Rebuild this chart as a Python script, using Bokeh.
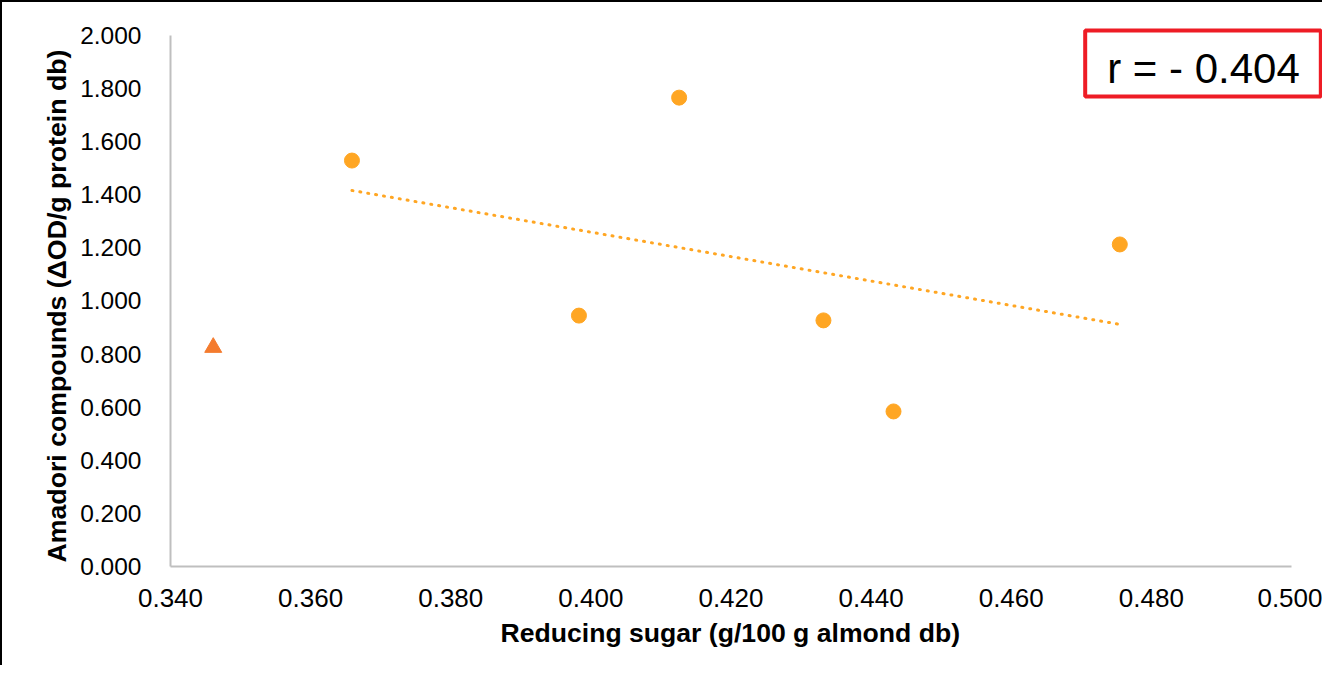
import numpy as np
from bokeh.plotting import figure
from bokeh.models import FixedTicker, NumeralTickFormatter, Label, Range1d, Title
from bokeh.embed import file_html
from bokeh.resources import INLINE

# Data
sugar = [0.3659, 0.4126, 0.3983, 0.4332, 0.4432, 0.4755]
amadori = [1.529, 1.766, 0.945, 0.927, 0.584, 1.213]
outlier_sugar = [0.3461]
outlier_amadori = [0.825]
x_ticks = [0.34, 0.36, 0.38, 0.40, 0.42, 0.44, 0.46, 0.48, 0.50]
y_ticks = [0.0, 0.2, 0.4, 0.6, 0.8, 1.0, 1.2, 1.4, 1.6, 1.8, 2.0]
x_title = "Reducing sugar (g/100 g almond db)"
y_title = "Amadori compounds (ΔOD/g protein db)"
r_text = "r = - 0.404"

FONT = "Liberation Sans"

# frame extends to top/right edge so the r-box is not clipped; axes bounded to data limits
p = figure(width=1322, height=665, output_backend="svg", toolbar_location=None,
           x_range=Range1d(0.34, 0.504718), y_range=Range1d(0.0, 2.12429),
           min_border_left=168, min_border_right=0, min_border_top=0, min_border_bottom=101,
           styles={"border-left": "2px solid black", "border-top": "2px solid black"})
p.outline_line_color = None
p.grid.visible = False

for ax in (p.xaxis[0], p.yaxis[0]):
    ax.axis_line_color = "#BFBFBF"
    ax.axis_line_width = 2
    ax.major_tick_line_color = None
    ax.minor_tick_line_color = None
    ax.major_tick_out = 0
    ax.major_tick_in = 0
    ax.major_label_text_font = FONT
    ax.major_label_text_color = "#000000"

p.xaxis[0].major_label_text_font_size = "26px"
p.yaxis[0].major_label_text_font_size = "24.5px"
p.xaxis[0].bounds = (0.34, 0.50)
p.yaxis[0].bounds = (0.0, 2.0)
p.xaxis[0].ticker = FixedTicker(ticks=x_ticks)
p.yaxis[0].ticker = FixedTicker(ticks=y_ticks)
p.xaxis[0].formatter = NumeralTickFormatter(format="0.000")
p.yaxis[0].formatter = NumeralTickFormatter(format="0.000")
p.xaxis[0].major_label_standoff = 22
p.yaxis[0].major_label_standoff = 29

# axis titles as side titles so they can be aligned to the axis span
p.add_layout(Title(text=x_title, align="left", offset=330, vertical_align="top", standoff=17,
                   text_font=FONT, text_font_size="26.6px", text_font_style="bold",
                   text_color="#000000"), "below")
p.add_layout(Title(text=y_title, align="left", offset=4, vertical_align="bottom", standoff=12,
                   text_font=FONT, text_font_size="26.7px", text_font_style="bold",
                   text_color="#000000"), "left")

# Trendline (least squares fit of the circle series)
slope, intercept = np.polyfit(sugar, amadori, 1)
tx = [min(sugar), max(sugar)]
ty = [slope * v + intercept for v in tx]
p.line(tx, ty, line_color="#FFA623", line_width=3, line_dash="1 7", line_cap="round")

p.scatter(sugar, amadori, marker="circle", size=15, fill_color="#FFA623", line_color="#FFA623")
p.scatter(outlier_sugar, outlier_amadori, marker="triangle", size=17,
          fill_color="#F47B2E", line_color="#F47B2E")

lbl = Label(x=1032.5, y=503, x_units="screen", y_units="screen", text=r_text,
            text_font=FONT, text_font_size="42px", text_color="#000000",
            text_align="center", text_baseline="middle",
            border_line_color="#EE1C25", border_line_width=4,
            background_fill_color="white", padding=[22, 21, 14, 5])
p.add_layout(lbl)

open("out.html", "w").write(file_html(p, INLINE))
